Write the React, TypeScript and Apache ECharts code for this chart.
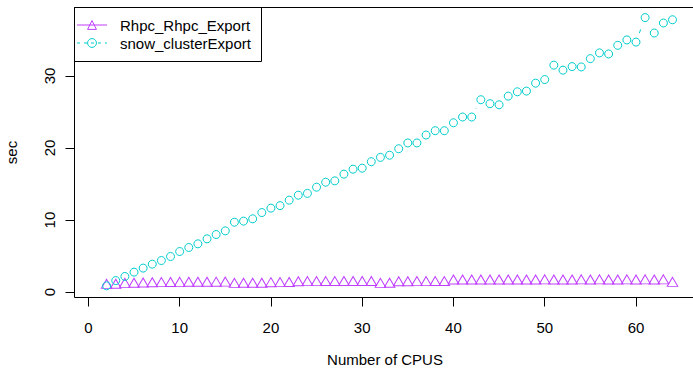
import React, { useEffect, useRef } from "react";
import * as echarts from "echarts";

const cpus = [2, 3, 4, 5, 6, 7, 8, 9, 10, 11, 12, 13, 14, 15, 16, 17, 18, 19, 20, 21, 22, 23, 24, 25, 26, 27, 28, 29, 30, 31, 32, 33, 34, 35, 36, 37, 38, 39, 40, 41, 42, 43, 44, 45, 46, 47, 48, 49, 50, 51, 52, 53, 54, 55, 56, 57, 58, 59, 60, 61, 62, 63, 64];

const rhpcExport = [
  0.93, 0.95, 1.07, 1.1, 1.13, 1.15, 1.18, 1.2, 1.21, 1.22, 1.22, 1.23, 1.24, 1.25,
  1.07, 1.08, 1.08, 1.1, 1.17, 1.18, 1.19, 1.3, 1.31, 1.31,
  1.32, 1.32, 1.33, 1.33, 1.34, 1.34, 1.07, 1.1, 1.3, 1.3,
  1.31, 1.31, 1.32, 1.32, 1.54, 1.53, 1.54, 1.55, 1.54, 1.53,
  1.54, 1.54, 1.55, 1.55, 1.56, 1.55, 1.54, 1.55, 1.56, 1.55,
  1.56, 1.55, 1.54, 1.56, 1.55, 1.56, 1.55, 1.56, 1.21,
];

const snowExport = [
  0.87, 1.6, 2.17, 2.77, 3.33, 3.88, 4.38, 4.94, 5.63, 6.19, 6.7, 7.39, 7.99, 8.5,
  9.7, 9.85, 10.17, 11.04, 11.65, 12.0, 12.76, 13.45, 13.7, 14.56,
  15.25, 15.44, 16.37, 17.06, 17.2, 18.1, 18.7, 19.0, 19.9, 20.7,
  20.7, 21.8, 22.4, 22.4, 23.5, 24.3, 24.3, 26.7, 26.15, 26.0,
  27.2, 27.8, 27.9, 29.0, 29.5, 31.5, 30.8, 31.3, 31.25, 32.4,
  33.2, 33.05, 34.25, 35.0, 34.7, 38.1, 35.96, 37.35, 37.8,
];

const xTicks = [0, 10, 20, 30, 40, 50, 60];
const yTicks = [0, 10, 20, 30];

const seriesNames = ["Rhpc_Rhpc_Export", "snow_clusterExport"];
const xTitle = "Number of CPUS";
const yTitle = "sec";

const PURPLE = "#BF3EFF";
const CYAN = "#00CDCD";
const FONT = "Liberation Sans, Arial, Helvetica, sans-serif";

export default function App() {
  const ref = useRef<HTMLDivElement>(null);

  useEffect(() => {
    if (!ref.current) return;
    document.body.style.margin = "0";
    const chart = echarts.init(ref.current, null, { renderer: "svg" });

    const rhpcData = cpus.map((x, i) => [x, rhpcExport[i]]);
    const snowData = cpus.map((x, i) => [x, snowExport[i]]);
    const snowPairs = cpus.slice(1).map((x, i) => [cpus[i], snowExport[i], x, snowExport[i + 1]]);

    const GAP = 9.5;

    chart.setOption({
      animation: false,
      textStyle: { fontFamily: FONT },
      grid: {
        left: 74.5,
        right: -2.5,
        top: 7.5,
        bottom: 70.5,
        show: true,
        borderColor: "#000",
        borderWidth: 1,
        backgroundColor: "transparent",
        containLabel: false,
        outerBoundsMode: "none",
      },
      xAxis: {
        type: "value",
        min: -1.52,
        max: 66.52,
        name: xTitle,
        nameLocation: "middle",
        nameGap: 54,
        nameTextStyle: { color: "#000", fontSize: 15, fontFamily: FONT },
        axisLine: { show: false, onZero: false },
        axisTick: { show: true, length: 9, customValues: xTicks, lineStyle: { color: "#000", width: 1 } },
        axisLabel: { customValues: xTicks, color: "#000", fontSize: 15, fontFamily: FONT, margin: 22 },
        splitLine: { show: false },
      },
      yAxis: {
        type: "value",
        min: -0.75,
        max: 39.5,
        name: yTitle,
        nameLocation: "middle",
        nameGap: 56,
        nameTextStyle: { color: "#000", fontSize: 15, fontFamily: FONT },
        axisLine: { show: false, onZero: false },
        axisTick: { show: true, length: 9, customValues: yTicks, lineStyle: { color: "#000", width: 1 } },
        axisLabel: { customValues: yTicks, color: "#000", fontSize: 15, fontFamily: FONT, margin: 18, rotate: 90 },
        splitLine: { show: false },
      },
      legend: {
        orient: "vertical",
        left: 74.5,
        top: 7.5,
        padding: [10, 0, 0, 2],
        itemWidth: 30,
        itemHeight: 11,
        itemGap: 3,
        selectedMode: false,
        textStyle: { color: "#000", fontSize: 15, fontFamily: FONT, padding: [0, 0, 0, 8] },
        data: [
          {
            name: seriesNames[0],
            itemStyle: { color: "transparent", borderColor: PURPLE, borderWidth: 1 },
            lineStyle: { color: PURPLE, width: 1, opacity: 1, type: "solid" },
          },
          {
            name: seriesNames[1],
            itemStyle: { color: "transparent", borderColor: CYAN, borderWidth: 1 },
            lineStyle: { color: CYAN, width: 1, opacity: 1, type: [3, 4] },
          },
        ],
      },
      graphic: [
        {
          type: "rect",
          shape: { x: 74.5, y: 7.5, width: 187, height: 54 },
          style: { fill: "none", stroke: "#000", lineWidth: 1 },
          silent: true,
        },
      ],
      series: [
        {
          name: "snow_segments",
          type: "custom",
          data: snowPairs,
          silent: true,
          renderItem: (params: any, api: any) => {
            const p0 = api.coord([api.value(0), api.value(1)]);
            const p1 = api.coord([api.value(2), api.value(3)]);
            const dx = p1[0] - p0[0];
            const dy = p1[1] - p0[1];
            const len = Math.hypot(dx, dy);
            if (len <= 2 * GAP) return null;
            const f = GAP / len;
            return {
              type: "line",
              shape: { x1: p0[0] + f * dx, y1: p0[1] + f * dy, x2: p1[0] - f * dx, y2: p1[1] - f * dy },
              style: { stroke: CYAN, lineWidth: 1, lineDash: [4, 4] },
            };
          },
        },
        {
          name: seriesNames[0],
          type: "line",
          data: rhpcData,
          symbol: "triangle",
          symbolSize: [10.5, 9],
          symbolOffset: [0, -1.5],
          showAllSymbol: true,
          itemStyle: { color: "transparent", borderColor: PURPLE, borderWidth: 1 },
          lineStyle: { opacity: 0 },
          emphasis: { disabled: true },
        },
        {
          name: seriesNames[1],
          type: "line",
          data: snowData,
          symbol: "circle",
          symbolSize: 8,
          showAllSymbol: true,
          itemStyle: { color: "transparent", borderColor: CYAN, borderWidth: 1 },
          lineStyle: { opacity: 0 },
          emphasis: { disabled: true },
        },
      ],
    });

    return () => chart.dispose();
  }, []);

  return <div ref={ref} style={{ width: 693, height: 368 }} />;
}
